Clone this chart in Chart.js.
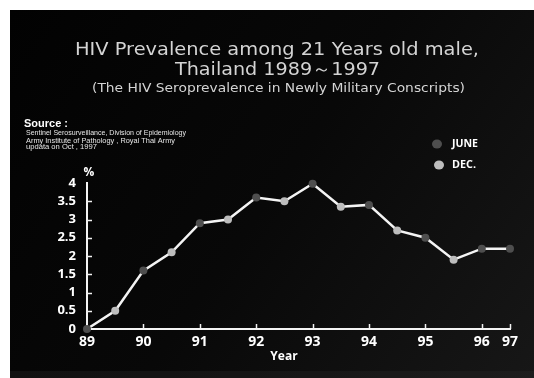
<!DOCTYPE html>
<html>
<head>
<meta charset="utf-8">
<script src="https://cdn.jsdelivr.net/npm/chart.js@4.4.1/dist/chart.umd.min.js"></script>
<style>
  html, body { margin: 0; padding: 0; background: #ffffff; }
  canvas { display: block; }
</style>
</head>
<body>
<canvas id="c" width="534" height="378"></canvas>
<script>
// ---- data ----
const xLabels = ['89', '', '90', '', '91', '', '92', '', '93', '', '94', '', '95', '', '96', '97'];
const surveyRound = ['JUNE', 'DEC.', 'JUNE', 'DEC.', 'JUNE', 'DEC.', 'JUNE', 'DEC.', 'JUNE', 'DEC.', 'JUNE', 'DEC.', 'JUNE', 'DEC.', 'JUNE', 'JUNE'];
const prevalence = [0, 0.5, 1.6, 2.1, 2.9, 3.0, 3.6, 3.5, 3.98, 3.35, 3.4, 2.7, 2.5, 1.9, 2.2, 2.2];
const legendLabels = ['JUNE', 'DEC.'];
const titleLines = ['HIV Prevalence among 21 Years old male,', 'Thailand 1989\uFF5E1997', '(The HIV Seroprevalence in Newly Military Conscripts)'];
const sourceLines = ['Source :', 'Sentinel Serosurveillance, Division of Epidemiology', 'Army Institute of Pathology , Royal Thai Army', 'updata on Oct , 1997'];
const yUnit = '%';
const xTitle = 'Year';

// ---- styles ----
const roundColor = { 'JUNE': '#4e4e4e', 'DEC.': '#bdbdbd' };

function fitText(ctx, text, x, y, width, font, color) {
  ctx.save();
  ctx.font = font;
  ctx.fillStyle = color;
  ctx.textBaseline = 'middle';
  ctx.textAlign = 'left';
  const w = ctx.measureText(text).width;
  ctx.translate(x, y);
  ctx.scale(width / w, 1);
  ctx.fillText(text, 0, 0);
  ctx.restore();
}

const bgPlugin = {
  id: 'bg',
  beforeDraw(chart) {
    const ctx = chart.ctx;
    ctx.save();
    ctx.fillStyle = '#ffffff';
    ctx.fillRect(0, 0, chart.width, chart.height);
    const g = ctx.createLinearGradient(10, 10, chart.width, chart.height);
    g.addColorStop(0, '#020202');
    g.addColorStop(0.5, '#080808');
    g.addColorStop(1, '#171717');
    ctx.fillStyle = g;
    ctx.fillRect(10, 10, chart.width - 10, chart.height - 10);
    ctx.fillStyle = 'rgba(40,40,40,0.35)';
    ctx.fillRect(10, 371, chart.width - 10, chart.height - 371);
    ctx.restore();
  }
};

const decoPlugin = {
  id: 'deco',
  afterDatasetsDraw(chart) {
    const ctx = chart.ctx;
    const xs = chart.scales.x, ys = chart.scales.y;
    const area = chart.chartArea;
    ctx.save();
    // inward ticks
    ctx.strokeStyle = '#f2f2f2';
    ctx.lineWidth = 1.5;
    ys.ticks.forEach(t => {
      if (t.value <= ys.min || t.value >= ys.max) return;
      const py = Math.round(ys.getPixelForValue(t.value)) + 0.5;
      ctx.beginPath();
      ctx.moveTo(area.left, py);
      ctx.lineTo(area.left + 5, py);
      ctx.stroke();
    });
    xLabels.forEach((lab, i) => {
      if (!lab || i === 0) return;
      const px = Math.round(xs.getPixelForValue(i)) + 0.5;
      ctx.beginPath();
      ctx.moveTo(px, area.bottom);
      ctx.lineTo(px, area.bottom - 5);
      ctx.stroke();
    });
    ctx.restore();
  },
  afterDraw(chart) {
    const ctx = chart.ctx;
    const area = chart.chartArea;
    // titles
    fitText(ctx, titleLines[0], 75, 50, 404, '18px "DejaVu Sans"', '#d4d4d4');
    fitText(ctx, titleLines[1], 175, 70, 205, '18px "DejaVu Sans"', '#d4d4d4');
    fitText(ctx, titleLines[2], 92, 89, 373, '13px "DejaVu Sans"', '#d4d4d4');
    // source
    fitText(ctx, sourceLines[0], 24, 124, 44, 'bold 10px "Liberation Sans"', '#ffffff');
    fitText(ctx, sourceLines[1], 26, 133, 160, '8px "Liberation Sans"', '#e6e6e6');
    fitText(ctx, sourceLines[2], 26, 140.5, 149, '8px "Liberation Sans"', '#e6e6e6');
    fitText(ctx, sourceLines[3], 26, 147, 71, '8px "Liberation Sans"', '#e6e6e6');
    // unit and axis title
    ctx.save();
    ctx.fillStyle = '#ffffff';
    ctx.textAlign = 'center';
    ctx.textBaseline = 'middle';
    ctx.font = 'bold 12px "Open Sans"';
    ctx.fillText(yUnit, area.left + 2, 173);
    ctx.fillText(xTitle, 284, 357);
    ctx.restore();
    // legend
    const legendPos = [[437, 144], [439, 165]];
    legendLabels.forEach((lab, i) => {
      const [mx, my] = legendPos[i];
      ctx.save();
      ctx.fillStyle = roundColor[lab];
      ctx.beginPath();
      ctx.ellipse(mx, my, 5, 4.5, 0, 0, Math.PI * 2);
      ctx.fill();
      ctx.restore();
      fitText(ctx, lab, 452, my, i === 0 ? 26 : 24, 'bold 11px "Open Sans"', '#ffffff');
    });
  }
};

new Chart(document.getElementById('c'), {
  type: 'line',
  data: {
    labels: xLabels,
    datasets: [{
      data: prevalence,
      borderColor: '#f4f4f4',
      borderWidth: 2.5,
      tension: 0,
      fill: false,
      clip: false,
      pointRadius: 4,
      pointHoverRadius: 4,
      pointBorderWidth: 0,
      pointBackgroundColor: surveyRound.map(r => roundColor[r])
    }]
  },
  options: {
    responsive: false,
    animation: false,
    devicePixelRatio: 1,
    layout: { padding: { left: 0, top: 183, right: 24, bottom: 0 } },
    plugins: { legend: { display: false }, title: { display: false }, tooltip: { enabled: false } },
    scales: {
      x: {
        type: 'category',
        offset: false,
        grid: { display: false, drawTicks: false },
        border: { display: true, color: '#f4f4f4', width: 2 },
        ticks: {
          autoSkip: false,
          maxRotation: 0,
          color: '#ffffff',
          padding: 5,
          font: { family: 'Open Sans', size: 14, weight: 'bold' },
          callback: (v, i) => xLabels[i]
        },
        afterFit: (s) => { s.height = 49; }
      },
      y: {
        min: 0,
        max: 4,
        grid: { display: false, drawTicks: false },
        border: { display: true, color: '#f4f4f4', width: 2 },
        ticks: {
          stepSize: 0.5,
          autoSkip: false,
          color: '#ffffff',
          padding: 11,
          font: { family: 'Open Sans', size: 13, weight: 'bold' },
          callback: (v) => String(Math.round(v * 10) / 10)
        },
        afterFit: (s) => { s.width = 87; }
      }
    }
  },
  plugins: [bgPlugin, decoPlugin]
});
</script>
</body>
</html>
